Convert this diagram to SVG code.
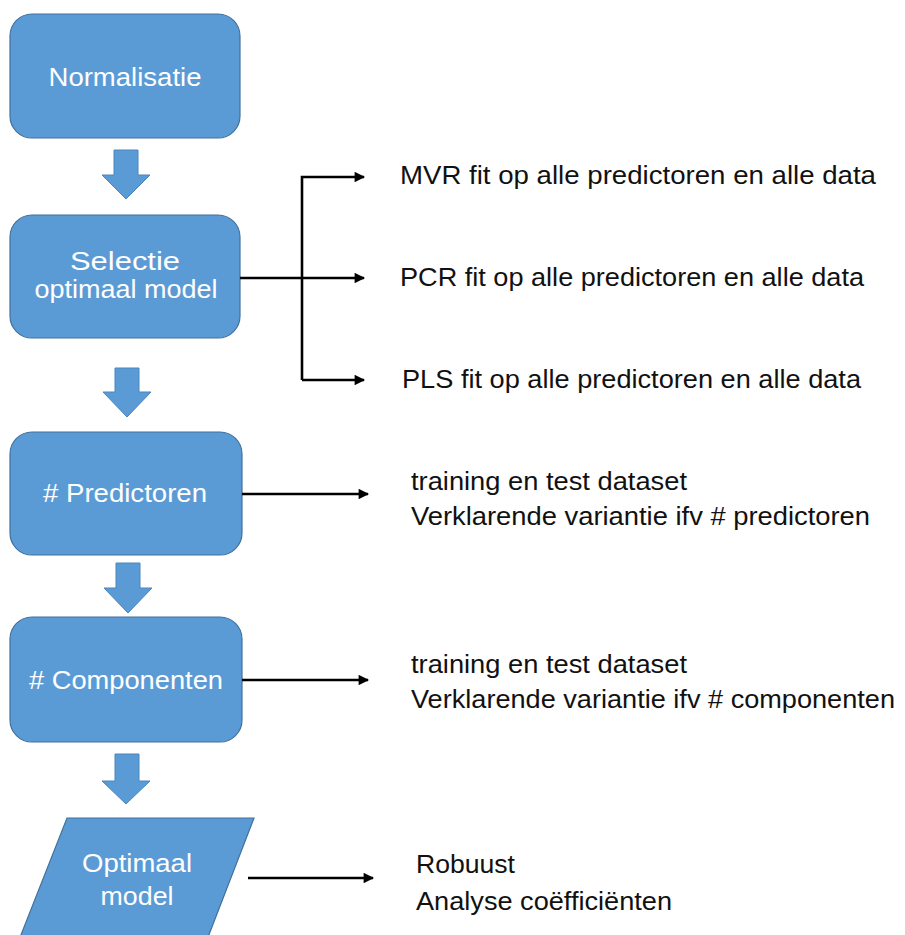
<svg xmlns="http://www.w3.org/2000/svg" width="905" height="935" viewBox="0 0 905 935">
<defs>
<style>
.box{fill:#5B9BD5;stroke:#41719C;stroke-width:1.2}
.bt{fill:#FFFFFF;font-family:"Liberation Sans",Arial,sans-serif;font-size:26px;text-anchor:middle}
.rt{fill:#111111;font-family:"Liberation Sans",Arial,sans-serif;font-size:25px}
.ln{fill:none;stroke:#000;stroke-width:2.6}
.down{fill:#5B9BD5;stroke:#4A86BE;stroke-width:1}
</style>
<marker id="ah" viewBox="0 0 10 10" refX="9" refY="5" markerWidth="4.4" markerHeight="4" orient="auto" markerUnits="strokeWidth">
<path d="M0,0 L10,5 L0,10 z" fill="#000"/>
</marker>
</defs>
<rect width="905" height="935" fill="#FFFFFF"/>

<g id="node-normalisatie">
<rect class="box" x="10" y="14" width="230" height="124" rx="22"/>
<text class="bt" x="125" y="86" textLength="153" lengthAdjust="spacingAndGlyphs">Normalisatie</text>
</g>

<g id="node-selectie">
<rect class="box" x="10" y="215" width="230" height="123" rx="22"/>
<text class="bt" x="125" y="270" textLength="110" lengthAdjust="spacingAndGlyphs">Selectie</text>
<text class="bt" x="126" y="298" textLength="183" lengthAdjust="spacingAndGlyphs">optimaal model</text>
</g>

<g id="node-predictoren">
<rect class="box" x="10" y="432" width="232" height="123" rx="22"/>
<text class="bt" x="125" y="502" textLength="164" lengthAdjust="spacingAndGlyphs"># Predictoren</text>
</g>

<g id="node-componenten">
<rect class="box" x="10" y="617" width="232" height="125" rx="22"/>
<text class="bt" x="126" y="689" textLength="194" lengthAdjust="spacingAndGlyphs"># Componenten</text>
</g>

<g id="node-optimaal">
<polygon class="box" points="67,818 254,818 205,945 17,945"/>
<text class="bt" x="137" y="872" textLength="110" lengthAdjust="spacingAndGlyphs">Optimaal</text>
<text class="bt" x="137" y="905" textLength="73" lengthAdjust="spacingAndGlyphs">model</text>
</g>

<g id="label-mvr"><text class="rt" x="400" y="184" textLength="476" lengthAdjust="spacingAndGlyphs">MVR fit op alle predictoren en alle data</text></g>
<g id="label-pcr"><text class="rt" x="400" y="286" textLength="464" lengthAdjust="spacingAndGlyphs">PCR fit op alle predictoren en alle data</text></g>
<g id="label-pls"><text class="rt" x="402" y="388" textLength="459" lengthAdjust="spacingAndGlyphs">PLS fit op alle predictoren en alle data</text></g>
<g id="label-predictoren">
<text class="rt" x="411" y="490" textLength="276" lengthAdjust="spacingAndGlyphs">training en test dataset</text>
<text class="rt" x="411" y="525" textLength="459" lengthAdjust="spacingAndGlyphs">Verklarende variantie ifv # predictoren</text>
</g>
<g id="label-componenten">
<text class="rt" x="411" y="673" textLength="276" lengthAdjust="spacingAndGlyphs">training en test dataset</text>
<text class="rt" x="411" y="708" textLength="484" lengthAdjust="spacingAndGlyphs">Verklarende variantie ifv # componenten</text>
</g>
<g id="label-optimaal">
<text class="rt" x="416" y="873" textLength="99" lengthAdjust="spacingAndGlyphs">Robuust</text>
<text class="rt" x="416" y="910" textLength="256" lengthAdjust="spacingAndGlyphs">Analyse coëfficiënten</text>
</g>

<g id="connectors">
<polygon class="down" points="114,150 138,150 138,175 150,175 126,199 102,175 114,175"/>
<polygon class="down" points="115,368 139,368 139,392 151,392 127,417 103,392 115,392"/>
<polygon class="down" points="116,563 140,563 140,588 152,588 128,613 104,588 116,588"/>
<polygon class="down" points="115,754 139,754 139,781 150,781 126,804 102,781 115,781"/>
<path class="ln" d="M240,278 L364,278" marker-end="url(#ah)"/>
<path class="ln" d="M302,380 L302,177 L364,177" marker-end="url(#ah)"/>
<path class="ln" d="M302,380 L364,380" marker-end="url(#ah)"/>
<path class="ln" d="M242,494 L368,494" marker-end="url(#ah)"/>
<path class="ln" d="M242,680 L368,680" marker-end="url(#ah)"/>
<path class="ln" d="M248,878 L373,878" marker-end="url(#ah)"/>
</g>
</svg>
